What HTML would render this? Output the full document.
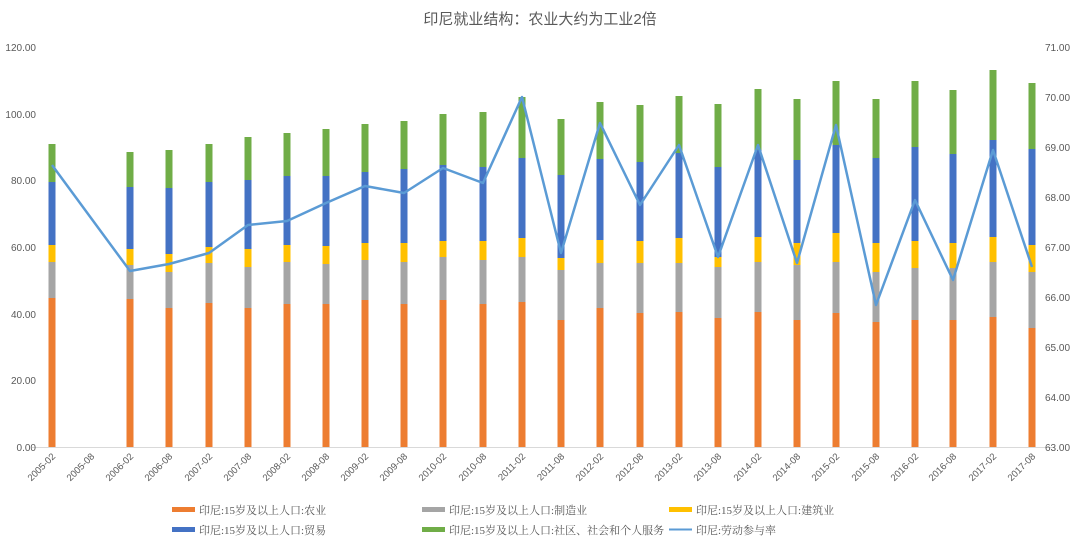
<!DOCTYPE html>
<html><head><meta charset="utf-8"><style>body{margin:0;background:#fff}svg{display:block}</style></head><body>
<svg id="c" width="1080" height="544" xmlns="http://www.w3.org/2000/svg" font-family="'Liberation Sans','Noto Sans CJK SC',sans-serif">
<text x="540" y="24" text-anchor="middle" font-size="15" fill="#595959">印尼就业结构：农业大约为工业2倍</text>
<line x1="32" y1="447.5" x2="1052" y2="447.5" stroke="#d9d9d9"/>
<g font-size="10" fill="#595959" text-anchor="end">
<text x="36" y="51">120.00</text><text x="36" y="118">100.00</text><text x="36" y="184">80.00</text><text x="36" y="251">60.00</text><text x="36" y="318">40.00</text><text x="36" y="384">20.00</text><text x="36" y="451">0.00</text>
</g>
<g font-size="10" fill="#595959">
<text x="1045" y="51">71.00</text><text x="1045" y="101">70.00</text><text x="1045" y="151">69.00</text><text x="1045" y="201">68.00</text><text x="1045" y="251">67.00</text><text x="1045" y="301">66.00</text><text x="1045" y="351">65.00</text><text x="1045" y="401">64.00</text><text x="1045" y="451">63.00</text>
</g>
<g id="bars"></g><g id="lbl" font-size="9.5" fill="#595959"></g>
<polyline id="ln" fill="none" stroke="#5b9bd5" stroke-width="2.5" stroke-linejoin="round"/>
<g font-size="11" fill="#595959" font-family="'Liberation Serif','Noto Serif CJK SC',serif">
<rect x="172" y="507" width="23" height="5" fill="#ed7d31"/><text x="199" y="514">印尼:15岁及以上人口:农业</text>
<rect x="422" y="507" width="23" height="5" fill="#a5a5a5"/><text x="449" y="514">印尼:15岁及以上人口:制造业</text>
<rect x="669" y="507" width="23" height="5" fill="#ffc000"/><text x="696" y="514">印尼:15岁及以上人口:建筑业</text>
<rect x="172" y="527" width="23" height="5" fill="#4472c4"/><text x="199" y="534">印尼:15岁及以上人口:贸易</text>
<rect x="422" y="527" width="23" height="5" fill="#70ad47"/><text x="449" y="534">印尼:15岁及以上人口:社区、社会和个人服务</text>
<line x1="669" y1="529.5" x2="692" y2="529.5" stroke="#5b9bd5" stroke-width="2"/><text x="696" y="534">印尼:劳动参与率</text>
</g>
</svg>
<script>
var d=[[52,298,262,245,182,144,165],[91,0,0,0,0,0,null],[130,299,265,249,187,152,271],[169,308,272,254,188,150,264],[209,303,263,247,182,144,253],[248,308,267,249,180,137,225],[287,304,262,245,176,133,221],[326,304,264,246,176,129,203],[365,300,260,243,172,124,186],[404,304,262,243,169,121,193],[443,300,257,241,165,114,168],[483,304,260,241,167,112,183],[522,302,257,238,158,97,97],[561,320,270,258,175,119,253],[600,308,263,240,159,102,123],[640,313,263,241,162,105,205],[679,312,263,238,153,96,145],[718,318,267,257,167,104,257],[758,312,262,237,150,89,145],[797,320,265,243,160,99,263],[836,313,262,233,145,81,125],[876,322,272,243,158,99,305],[915,320,268,241,147,81,200],[953,320,268,243,154,90,280],[993,317,262,237,140,70,150],[1032,328,272,245,149,83,267]];
var lab=["2005-02","2005-08","2006-02","2006-08","2007-02","2007-08","2008-02","2008-08","2009-02","2009-08","2010-02","2010-08","2011-02","2011-08","2012-02","2012-08","2013-02","2013-08","2014-02","2014-08","2015-02","2015-08","2016-02","2016-08","2017-02","2017-08"];
var col=["#ed7d31","#a5a5a5","#ffc000","#4472c4","#70ad47"];
var b="",l="",p=[];
d.forEach(function(r,i){var x=r[0];if(r[1]){var bot=447;for(var k=0;k<5;k++){var t=r[1+k];b+='<rect x="'+(x-3.5)+'" y="'+t+'" width="7" height="'+(bot-t)+'" fill="'+col[k]+'"/>';bot=t;}}
if(r[6]!==null)p.push(x+","+r[6]);
l+='<text x="'+(x+4)+'" y="457" text-anchor="end" transform="rotate(-45 '+(x+4)+' 457)">'+lab[i]+'</text>';});
document.getElementById("bars").innerHTML=b;document.getElementById("lbl").innerHTML=l;document.getElementById("ln").setAttribute("points",p.join(" "));
</script>
</body></html>
